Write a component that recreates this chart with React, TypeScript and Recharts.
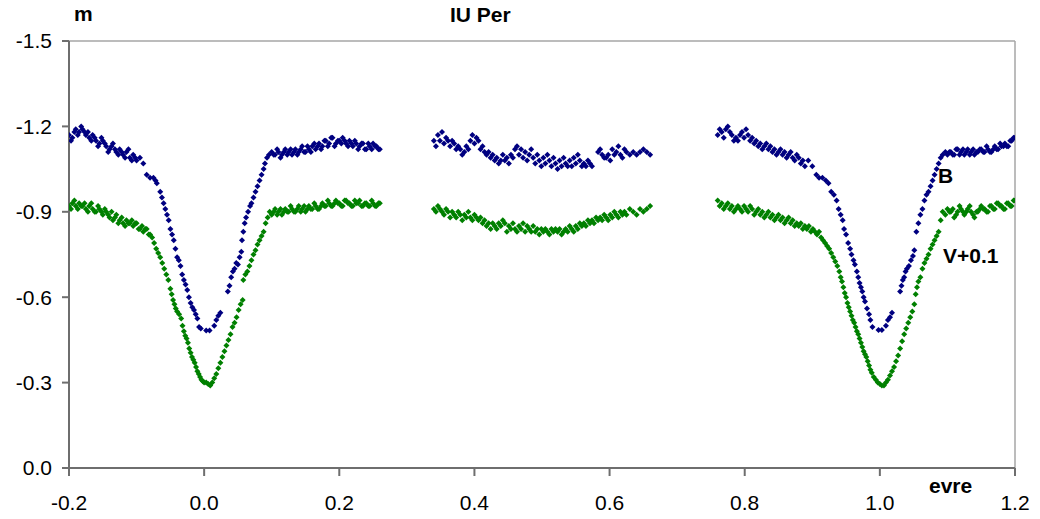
import {
  ReferenceLine,
  Scatter,
  ScatterChart,
  XAxis,
  YAxis,
} from "recharts";

const bFirst: [number, number][] = [
  [-0.2, -1.17], [-0.197, -1.15], [-0.195, -1.16], [-0.192, -1.18], [-0.19, -1.19], [-0.187, -1.17],
  [-0.185, -1.18], [-0.182, -1.2], [-0.18, -1.19], [-0.177, -1.18], [-0.175, -1.17], [-0.172, -1.18],
  [-0.17, -1.16], [-0.167, -1.15], [-0.165, -1.17], [-0.162, -1.16], [-0.16, -1.15], [-0.157, -1.13],
  [-0.155, -1.14], [-0.152, -1.16], [-0.15, -1.15], [-0.147, -1.14], [-0.145, -1.13], [-0.142, -1.11],
  [-0.14, -1.12], [-0.137, -1.13], [-0.135, -1.14], [-0.132, -1.12], [-0.13, -1.11], [-0.127, -1.1],
  [-0.125, -1.12], [-0.122, -1.11], [-0.12, -1.1], [-0.117, -1.09], [-0.115, -1.11], [-0.112, -1.12],
  [-0.11, -1.09], [-0.107, -1.08], [-0.105, -1.1], [-0.102, -1.09], [-0.1, -1.08], [-0.095, -1.09],
  [-0.09, -1.07], [-0.085, -1.03], [-0.08, -1.02], [-0.075, -1.02], [-0.072, -1.01], [-0.07, -1.0],
  [-0.065, -0.97], [-0.0625, -0.95], [-0.06, -0.93], [-0.0575, -0.91], [-0.055, -0.89], [-0.0525, -0.87],
  [-0.05, -0.84], [-0.0475, -0.82], [-0.045, -0.8], [-0.0425, -0.77], [-0.04, -0.74], [-0.0375, -0.73],
  [-0.035, -0.71], [-0.0325, -0.68], [-0.03, -0.66], [-0.0275, -0.645], [-0.025, -0.625], [-0.0225, -0.6],
  [-0.02, -0.58], [-0.0175, -0.565], [-0.015, -0.555], [-0.0125, -0.54], [-0.01, -0.525], [-0.0075, -0.495],
  [-0.005, -0.49], [0.003, -0.483], [0.008, -0.483], [0.015, -0.5], [0.018, -0.52], [0.021, -0.535],
  [0.024, -0.545], [0.035, -0.62], [0.0375, -0.64], [0.04, -0.67], [0.0425, -0.69], [0.045, -0.7],
  [0.0475, -0.72], [0.05, -0.715], [0.0525, -0.74], [0.055, -0.76], [0.056, -0.8], [0.058, -0.83],
  [0.06, -0.86], [0.062, -0.88], [0.065, -0.9], [0.068, -0.92], [0.07, -0.93], [0.073, -0.95],
  [0.076, -0.97], [0.079, -0.99], [0.082, -1.01], [0.085, -1.03], [0.088, -1.05], [0.09, -1.07],
  [0.093, -1.09], [0.096, -1.1], [0.1, -1.11], [0.103, -1.1], [0.105, -1.1], [0.108, -1.12],
  [0.11, -1.11], [0.113, -1.09], [0.115, -1.1], [0.118, -1.11], [0.12, -1.12], [0.123, -1.1],
  [0.125, -1.11], [0.128, -1.12], [0.13, -1.1], [0.133, -1.11], [0.135, -1.12], [0.138, -1.1],
  [0.14, -1.11], [0.143, -1.12], [0.145, -1.13], [0.148, -1.11], [0.15, -1.11], [0.153, -1.13],
  [0.155, -1.12], [0.158, -1.11], [0.16, -1.13], [0.163, -1.14], [0.165, -1.12], [0.168, -1.13],
  [0.17, -1.14], [0.173, -1.12], [0.175, -1.13], [0.178, -1.15], [0.18, -1.15], [0.183, -1.13],
  [0.185, -1.14], [0.188, -1.16], [0.19, -1.16], [0.193, -1.13], [0.195, -1.14], [0.198, -1.15],
  [0.2, -1.15], [0.203, -1.14], [0.205, -1.16], [0.208, -1.15], [0.21, -1.14], [0.213, -1.13],
  [0.215, -1.15], [0.218, -1.14], [0.22, -1.13], [0.223, -1.15], [0.225, -1.14], [0.228, -1.12],
  [0.23, -1.13], [0.233, -1.14], [0.235, -1.14], [0.238, -1.12], [0.24, -1.12], [0.243, -1.14],
  [0.245, -1.13], [0.248, -1.12], [0.25, -1.14], [0.253, -1.13], [0.255, -1.13], [0.258, -1.12],
  [0.26, -1.12],
];

const vFirst: [number, number][] = [
  [-0.2, -0.92], [-0.197, -0.91], [-0.195, -0.93], [-0.192, -0.94], [-0.19, -0.92], [-0.187, -0.91],
  [-0.185, -0.93], [-0.182, -0.92], [-0.18, -0.92], [-0.177, -0.93], [-0.175, -0.91], [-0.172, -0.9],
  [-0.17, -0.92], [-0.167, -0.93], [-0.165, -0.91], [-0.162, -0.9], [-0.16, -0.9], [-0.157, -0.92],
  [-0.155, -0.91], [-0.152, -0.9], [-0.15, -0.89], [-0.147, -0.91], [-0.145, -0.9], [-0.142, -0.89],
  [-0.14, -0.88], [-0.137, -0.9], [-0.135, -0.87], [-0.132, -0.88], [-0.13, -0.89], [-0.127, -0.86],
  [-0.125, -0.87], [-0.122, -0.88], [-0.12, -0.86], [-0.117, -0.85], [-0.115, -0.87], [-0.112, -0.86],
  [-0.11, -0.86], [-0.107, -0.87], [-0.105, -0.85], [-0.102, -0.86], [-0.1, -0.86], [-0.097, -0.84],
  [-0.095, -0.84], [-0.092, -0.85], [-0.09, -0.83], [-0.087, -0.84], [-0.085, -0.84], [-0.082, -0.82],
  [-0.08, -0.82], [-0.077, -0.81], [-0.074, -0.79], [-0.071, -0.77], [-0.068, -0.755], [-0.065, -0.74],
  [-0.062, -0.72], [-0.059, -0.7], [-0.056, -0.68], [-0.053, -0.66], [-0.05, -0.63], [-0.048, -0.61],
  [-0.046, -0.59], [-0.044, -0.575], [-0.042, -0.56], [-0.04, -0.55], [-0.037, -0.54], [-0.034, -0.525],
  [-0.032, -0.5], [-0.03, -0.48], [-0.028, -0.465], [-0.026, -0.455], [-0.024, -0.44], [-0.022, -0.42],
  [-0.02, -0.405], [-0.018, -0.39], [-0.016, -0.38], [-0.014, -0.37], [-0.012, -0.355], [-0.01, -0.34],
  [-0.008, -0.33], [-0.006, -0.32], [-0.004, -0.31], [-0.002, -0.305], [0.0, -0.3], [0.003, -0.3],
  [0.006, -0.295], [0.009, -0.29], [0.012, -0.3], [0.015, -0.315], [0.018, -0.33], [0.021, -0.35],
  [0.024, -0.37], [0.027, -0.39], [0.03, -0.41], [0.033, -0.43], [0.036, -0.45], [0.039, -0.47],
  [0.042, -0.495], [0.045, -0.51], [0.048, -0.53], [0.051, -0.555], [0.054, -0.575], [0.057, -0.59],
  [0.058, -0.66], [0.061, -0.68], [0.064, -0.69], [0.067, -0.71], [0.07, -0.73], [0.073, -0.75],
  [0.076, -0.765], [0.079, -0.785], [0.082, -0.8], [0.085, -0.815], [0.088, -0.83], [0.091, -0.86],
  [0.094, -0.88], [0.097, -0.9], [0.1, -0.89], [0.103, -0.9], [0.105, -0.91], [0.108, -0.89],
  [0.11, -0.9], [0.113, -0.91], [0.115, -0.89], [0.118, -0.9], [0.12, -0.91], [0.123, -0.9],
  [0.125, -0.9], [0.128, -0.92], [0.13, -0.91], [0.133, -0.9], [0.135, -0.9], [0.138, -0.91],
  [0.14, -0.92], [0.143, -0.9], [0.145, -0.91], [0.148, -0.92], [0.15, -0.9], [0.153, -0.91],
  [0.155, -0.92], [0.158, -0.91], [0.16, -0.91], [0.163, -0.93], [0.165, -0.92], [0.168, -0.91],
  [0.17, -0.91], [0.173, -0.92], [0.175, -0.93], [0.178, -0.92], [0.18, -0.92], [0.183, -0.94],
  [0.185, -0.93], [0.188, -0.92], [0.19, -0.92], [0.193, -0.93], [0.195, -0.94], [0.198, -0.93],
  [0.2, -0.93], [0.203, -0.92], [0.205, -0.92], [0.208, -0.94], [0.21, -0.94], [0.213, -0.93],
  [0.215, -0.93], [0.218, -0.92], [0.22, -0.92], [0.223, -0.94], [0.225, -0.93], [0.228, -0.93],
  [0.23, -0.94], [0.233, -0.92], [0.235, -0.92], [0.238, -0.93], [0.24, -0.93], [0.243, -0.92],
  [0.245, -0.92], [0.248, -0.94], [0.25, -0.93], [0.253, -0.92], [0.255, -0.92], [0.258, -0.93],
  [0.26, -0.93],
];

const bSecond: [number, number][] = [
  [0.34, -1.15], [0.343, -1.13], [0.346, -1.17], [0.349, -1.15], [0.352, -1.18], [0.355, -1.14],
  [0.358, -1.16], [0.361, -1.15], [0.364, -1.13], [0.367, -1.15], [0.37, -1.14], [0.373, -1.12],
  [0.376, -1.13], [0.379, -1.12], [0.382, -1.1], [0.385, -1.11], [0.388, -1.13], [0.391, -1.12],
  [0.394, -1.15], [0.397, -1.17], [0.4, -1.14], [0.403, -1.16], [0.406, -1.15], [0.409, -1.12],
  [0.412, -1.13], [0.415, -1.11], [0.418, -1.1], [0.421, -1.11], [0.424, -1.09], [0.427, -1.1],
  [0.43, -1.08], [0.433, -1.09], [0.436, -1.07], [0.439, -1.08], [0.442, -1.1], [0.445, -1.08],
  [0.448, -1.09], [0.451, -1.07], [0.454, -1.1], [0.457, -1.09], [0.46, -1.12], [0.463, -1.13],
  [0.466, -1.1], [0.469, -1.12], [0.472, -1.09], [0.475, -1.11], [0.478, -1.08], [0.481, -1.1],
  [0.484, -1.12], [0.487, -1.09], [0.49, -1.07], [0.493, -1.1], [0.496, -1.08], [0.499, -1.06],
  [0.502, -1.09], [0.505, -1.07], [0.508, -1.1], [0.511, -1.08], [0.514, -1.06], [0.517, -1.09],
  [0.52, -1.07], [0.523, -1.05], [0.526, -1.08], [0.529, -1.06], [0.532, -1.09], [0.535, -1.07],
  [0.538, -1.06], [0.541, -1.08], [0.544, -1.06], [0.547, -1.09], [0.55, -1.07], [0.553, -1.1],
  [0.556, -1.08], [0.559, -1.06], [0.562, -1.07], [0.565, -1.06], [0.568, -1.08], [0.571, -1.07],
  [0.574, -1.06], [0.583, -1.11], [0.586, -1.12], [0.589, -1.1], [0.592, -1.09], [0.595, -1.09],
  [0.598, -1.1], [0.601, -1.08], [0.604, -1.12], [0.607, -1.1], [0.61, -1.11], [0.613, -1.13],
  [0.616, -1.1], [0.619, -1.09], [0.622, -1.12], [0.625, -1.11], [0.63, -1.1], [0.635, -1.11],
  [0.64, -1.1], [0.645, -1.11], [0.65, -1.12], [0.655, -1.11], [0.66, -1.1],
];

const vSecond: [number, number][] = [
  [0.34, -0.91], [0.343, -0.9], [0.346, -0.92], [0.349, -0.91], [0.352, -0.9], [0.355, -0.89],
  [0.358, -0.91], [0.361, -0.9], [0.364, -0.88], [0.367, -0.9], [0.37, -0.89], [0.373, -0.88],
  [0.376, -0.9], [0.379, -0.89], [0.382, -0.87], [0.385, -0.89], [0.388, -0.88], [0.391, -0.9],
  [0.394, -0.88], [0.397, -0.87], [0.4, -0.89], [0.403, -0.88], [0.406, -0.87], [0.409, -0.88],
  [0.412, -0.86], [0.415, -0.87], [0.418, -0.85], [0.421, -0.86], [0.424, -0.84], [0.427, -0.86],
  [0.43, -0.85], [0.433, -0.84], [0.436, -0.86], [0.439, -0.85], [0.442, -0.87], [0.445, -0.86],
  [0.448, -0.83], [0.451, -0.85], [0.454, -0.84], [0.457, -0.86], [0.46, -0.84], [0.463, -0.83],
  [0.466, -0.85], [0.469, -0.84], [0.472, -0.86], [0.475, -0.83], [0.478, -0.85], [0.481, -0.84],
  [0.484, -0.83], [0.487, -0.85], [0.49, -0.83], [0.493, -0.84], [0.496, -0.82], [0.499, -0.84],
  [0.502, -0.83], [0.505, -0.84], [0.508, -0.83], [0.511, -0.82], [0.514, -0.84], [0.517, -0.83],
  [0.52, -0.84], [0.523, -0.83], [0.526, -0.84], [0.529, -0.82], [0.532, -0.83], [0.535, -0.84],
  [0.538, -0.83], [0.541, -0.85], [0.544, -0.84], [0.547, -0.83], [0.55, -0.85], [0.553, -0.84],
  [0.556, -0.86], [0.559, -0.85], [0.562, -0.86], [0.565, -0.85], [0.568, -0.87], [0.571, -0.86],
  [0.574, -0.87], [0.577, -0.86], [0.58, -0.88], [0.583, -0.87], [0.586, -0.88], [0.589, -0.87],
  [0.592, -0.89], [0.595, -0.88], [0.598, -0.87], [0.601, -0.89], [0.604, -0.88], [0.607, -0.9],
  [0.61, -0.89], [0.613, -0.88], [0.616, -0.9], [0.619, -0.89], [0.622, -0.9], [0.625, -0.89],
  [0.63, -0.91], [0.635, -0.9], [0.64, -0.89], [0.645, -0.91], [0.65, -0.9], [0.655, -0.91],
  [0.66, -0.92],
];

const bThird: [number, number][] = [
  [0.76, -1.17], [0.763, -1.19], [0.766, -1.18], [0.769, -1.16], [0.772, -1.19], [0.775, -1.2],
  [0.778, -1.18], [0.781, -1.17], [0.784, -1.15], [0.787, -1.16], [0.79, -1.15], [0.793, -1.17],
  [0.796, -1.18], [0.799, -1.16], [0.802, -1.19], [0.805, -1.17], [0.808, -1.15], [0.811, -1.16],
  [0.814, -1.14], [0.817, -1.15], [0.82, -1.13], [0.823, -1.14], [0.826, -1.12], [0.829, -1.13],
  [0.832, -1.14], [0.835, -1.12], [0.838, -1.13], [0.841, -1.11], [0.844, -1.12], [0.847, -1.1],
  [0.85, -1.11], [0.853, -1.12], [0.856, -1.1], [0.859, -1.11], [0.862, -1.09], [0.865, -1.1],
  [0.868, -1.11], [0.871, -1.09], [0.874, -1.08], [0.877, -1.1], [0.88, -1.09], [0.883, -1.07],
  [0.886, -1.08], [0.889, -1.06], [0.894, -1.08], [0.9, -1.06], [0.906, -1.03], [0.91, -1.02],
  [0.915, -1.02], [0.92, -1.01], [0.924, -1.0], [0.928, -0.97], [0.932, -0.96], [0.936, -0.94],
  [0.939, -0.91], [0.942, -0.89], [0.945, -0.87], [0.947, -0.84], [0.95, -0.82], [0.953, -0.79],
  [0.956, -0.77], [0.958, -0.75], [0.961, -0.73], [0.963, -0.715], [0.966, -0.69], [0.968, -0.67],
  [0.97, -0.65], [0.972, -0.635], [0.974, -0.62], [0.976, -0.6], [0.978, -0.585], [0.981, -0.56],
  [0.984, -0.54], [0.986, -0.52], [0.989, -0.495], [0.998, -0.485], [1.003, -0.485], [1.009, -0.5],
  [1.012, -0.52], [1.015, -0.53], [1.018, -0.545], [1.03, -0.62], [1.032, -0.64], [1.034, -0.66],
  [1.036, -0.67], [1.038, -0.69], [1.04, -0.7], [1.043, -0.71], [1.046, -0.73], [1.049, -0.745],
  [1.051, -0.765], [1.054, -0.83], [1.057, -0.86], [1.06, -0.89], [1.063, -0.91], [1.066, -0.94],
  [1.069, -0.96], [1.072, -0.97], [1.075, -0.99], [1.078, -1.01], [1.081, -1.03], [1.084, -1.05],
  [1.087, -1.07], [1.09, -1.09], [1.093, -1.1], [1.097, -1.11], [1.1, -1.1], [1.103, -1.11],
  [1.105, -1.11], [1.108, -1.1], [1.11, -1.1], [1.113, -1.12], [1.115, -1.12], [1.118, -1.1],
  [1.12, -1.11], [1.123, -1.12], [1.125, -1.1], [1.128, -1.11], [1.13, -1.12], [1.133, -1.1],
  [1.135, -1.11], [1.138, -1.12], [1.14, -1.1], [1.143, -1.11], [1.145, -1.11], [1.148, -1.12],
  [1.15, -1.12], [1.153, -1.11], [1.155, -1.11], [1.158, -1.13], [1.16, -1.12], [1.163, -1.11],
  [1.165, -1.11], [1.168, -1.12], [1.17, -1.13], [1.173, -1.12], [1.175, -1.12], [1.178, -1.14],
  [1.18, -1.13], [1.183, -1.13], [1.185, -1.14], [1.188, -1.13], [1.19, -1.13], [1.193, -1.15],
  [1.195, -1.15], [1.198, -1.16], [1.2, -1.16],
];

const vThird: [number, number][] = [
  [0.76, -0.94], [0.763, -0.92], [0.766, -0.93], [0.769, -0.91], [0.772, -0.92], [0.775, -0.93],
  [0.778, -0.91], [0.781, -0.92], [0.784, -0.9], [0.787, -0.91], [0.79, -0.92], [0.793, -0.91],
  [0.796, -0.9], [0.799, -0.92], [0.802, -0.91], [0.805, -0.9], [0.808, -0.92], [0.811, -0.91],
  [0.814, -0.89], [0.817, -0.9], [0.82, -0.91], [0.823, -0.89], [0.826, -0.9], [0.829, -0.88],
  [0.832, -0.89], [0.835, -0.9], [0.838, -0.88], [0.841, -0.89], [0.844, -0.87], [0.847, -0.88],
  [0.85, -0.89], [0.853, -0.87], [0.856, -0.88], [0.859, -0.86], [0.862, -0.87], [0.865, -0.88],
  [0.868, -0.86], [0.871, -0.87], [0.874, -0.85], [0.877, -0.86], [0.88, -0.85], [0.883, -0.86],
  [0.886, -0.84], [0.889, -0.85], [0.892, -0.84], [0.895, -0.85], [0.898, -0.83], [0.901, -0.84],
  [0.904, -0.83], [0.907, -0.82], [0.91, -0.83], [0.913, -0.81], [0.916, -0.8], [0.919, -0.79],
  [0.922, -0.78], [0.925, -0.77], [0.928, -0.755], [0.931, -0.74], [0.934, -0.725], [0.937, -0.71],
  [0.94, -0.69], [0.942, -0.67], [0.944, -0.655], [0.946, -0.635], [0.948, -0.615], [0.95, -0.6],
  [0.952, -0.58], [0.954, -0.565], [0.956, -0.55], [0.958, -0.535], [0.96, -0.52], [0.962, -0.51],
  [0.964, -0.495], [0.966, -0.48], [0.968, -0.47], [0.97, -0.455], [0.972, -0.44], [0.974, -0.425],
  [0.976, -0.41], [0.978, -0.4], [0.98, -0.39], [0.982, -0.375], [0.984, -0.36], [0.986, -0.345],
  [0.988, -0.335], [0.991, -0.32], [0.994, -0.31], [0.997, -0.3], [1.0, -0.295], [1.003, -0.29],
  [1.006, -0.29], [1.009, -0.3], [1.012, -0.31], [1.015, -0.325], [1.018, -0.34], [1.021, -0.355],
  [1.024, -0.375], [1.027, -0.395], [1.03, -0.42], [1.033, -0.445], [1.036, -0.47], [1.039, -0.49],
  [1.042, -0.51], [1.045, -0.53], [1.048, -0.55], [1.051, -0.575], [1.053, -0.61], [1.055, -0.635],
  [1.057, -0.655], [1.06, -0.67], [1.063, -0.7], [1.066, -0.72], [1.069, -0.735], [1.072, -0.75],
  [1.075, -0.77], [1.078, -0.785], [1.081, -0.8], [1.084, -0.815], [1.087, -0.83], [1.09, -0.87],
  [1.093, -0.9], [1.097, -0.89], [1.1, -0.91], [1.103, -0.9], [1.105, -0.9], [1.108, -0.91],
  [1.11, -0.88], [1.113, -0.89], [1.115, -0.9], [1.118, -0.92], [1.12, -0.91], [1.123, -0.9],
  [1.125, -0.89], [1.128, -0.9], [1.13, -0.91], [1.133, -0.92], [1.135, -0.9], [1.138, -0.89],
  [1.14, -0.88], [1.143, -0.9], [1.145, -0.9], [1.148, -0.91], [1.15, -0.92], [1.153, -0.91],
  [1.155, -0.91], [1.158, -0.9], [1.16, -0.9], [1.163, -0.92], [1.165, -0.92], [1.168, -0.91],
  [1.17, -0.91], [1.173, -0.93], [1.175, -0.93], [1.178, -0.92], [1.18, -0.92], [1.183, -0.91],
  [1.185, -0.91], [1.188, -0.93], [1.19, -0.93], [1.193, -0.92], [1.195, -0.92], [1.198, -0.94],
  [1.2, -0.94],
];

const xTicks = [-0.2, 0, 0.2, 0.4, 0.6, 0.8, 1.0, 1.2];
const yTicks = [-1.5, -1.2, -0.9, -0.6, -0.3, 0];

const toPoints = (rows: [number, number][]) =>
  rows.map(([phase, mag]) => ({ phase, mag }));

const bData = toPoints([...bFirst, ...bSecond, ...bThird]);
const vData = toPoints([...vFirst, ...vSecond, ...vThird]);

const font = "'Liberation Sans', Arial, sans-serif";
const axisGray = "#6e6e6e";
const borderGray = "#a6a6a6";

const Diamond = (color: string) => (props: any) => {
  const { cx, cy } = props;
  if (cx == null || cy == null) return <g />;
  return (
    <path
      d={`M${cx},${cy - 3}L${cx + 3},${cy}L${cx},${cy + 3}L${cx - 3},${cy}Z`}
      fill={color}
    />
  );
};

const label = (extra: React.CSSProperties): React.CSSProperties => ({
  position: "absolute",
  fontFamily: font,
  fontWeight: "bold",
  fontSize: 21,
  color: "#000",
  lineHeight: 1,
  whiteSpace: "nowrap",
  ...extra,
});

export default function App() {
  return (
    <div
      style={{
        position: "absolute",
        left: 0,
        top: 0,
        width: 1040,
        height: 519,
        background: "#fff",
      }}
    >
      <ScatterChart
        width={1040}
        height={519}
        margin={{ top: 41, right: 25, bottom: 0, left: 0 }}
      >
        <ReferenceLine y={-1.5} stroke={borderGray} strokeWidth={1.5} />
        <ReferenceLine x={1.2} stroke={borderGray} strokeWidth={1.5} />
        <XAxis
          type="number"
          dataKey="phase"
          domain={[-0.2, 1.2]}
          ticks={xTicks}
          tickFormatter={(v: number) => v.toFixed(1)}
          height={51}
          stroke={axisGray}
          strokeWidth={2}
          tickSize={8}
          tickMargin={19}
          tick={{ fill: "#000", fontSize: 21, fontFamily: font }}
          allowDataOverflow
        />
        <YAxis
          type="number"
          dataKey="mag"
          domain={[-1.5, 0]}
          reversed
          ticks={yTicks}
          tickFormatter={(v: number) => v.toFixed(1)}
          width={69}
          stroke={axisGray}
          strokeWidth={2}
          tickSize={7}
          tickMargin={10}
          tick={{ fill: "#000", fontSize: 21, fontFamily: font }}
          allowDataOverflow
        />
        <Scatter
          name="B"
          data={bData}
          shape={Diamond("#000080")}
          isAnimationActive={false}
        />
        <Scatter
          name="V+0.1"
          data={vData}
          shape={Diamond("#008000")}
          isAnimationActive={false}
        />
      </ScatterChart>
      <div style={label({ left: 74, top: 3 })}>m</div>
      <div style={label({ left: 450, top: 4 })}>IU Per</div>
      <div style={label({ left: 929, top: 475 })}>evre</div>
      <div style={label({ left: 938, top: 165 })}>B</div>
      <div style={label({ left: 943, top: 245 })}>V+0.1</div>
    </div>
  );
}
